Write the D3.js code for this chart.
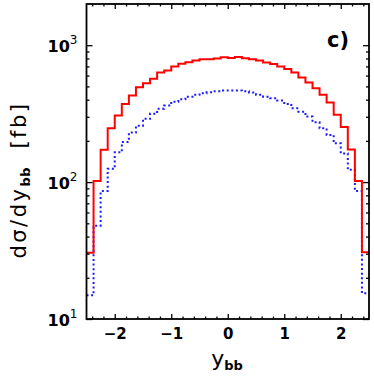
<!DOCTYPE html>
<html>
<head>
<meta charset="utf-8">
<script src="https://cdn.jsdelivr.net/npm/d3@7"></script>
<style>
html,body{margin:0;padding:0;background:#fff;}
svg{display:block;}
text{font-family:"DejaVu Sans",sans-serif;fill:#000;}
</style>
</head>
<body>
<svg id="chart" width="374" height="377"></svg>
<script>
// ---- data ----
const binStart = -2.5;
const binWidth = 0.125;
const redValues = [30.5, 102, 172, 247, 306, 372, 430, 493, 527, 570,
                   631, 653, 698, 731, 752, 773, 790, 790, 800, 817,
                   808, 821, 804, 790, 773, 747, 728, 698, 671, 631,
                   580, 533, 485, 434, 381, 311, 253, 173, 102, 30.7];
const blueValues = [14.9, 48, 86, 125, 165, 196, 230, 258, 290, 316,
                    343, 362, 387, 403, 421, 434, 446, 453, 461, 467,
                    467, 467, 461, 451, 434, 421, 410, 394, 372, 346,
                    327, 301, 274, 247, 221, 192, 162, 123, 86, 15.4];
const xMajorTicks = [-2, -1, 0, 1, 2];
const xMinorTicks = [-2.4,-2.2,-1.8,-1.6,-1.4,-1.2,-0.8,-0.6,-0.4,-0.2,0.2,0.4,0.6,0.8,1.2,1.4,1.6,1.8,2.2,2.4];
const xTickLabels = ["\u22122", "\u22121", "0", "1", "2"];
const yMajorTicks = [10, 100, 1000];
const yTickExponents = ["1", "2", "3"];
const yMinorTicks = [20,30,40,50,60,70,80,90,200,300,400,500,600,700,800,900];

// ---- layout ----
const L = 86.5, R = 369, T = 4, B = 319;
const svg = d3.select("#chart");
const x = d3.scaleLinear().domain([-2.5, 2.5]).range([L, R]);
const y = d3.scaleLog().domain([10, 2000]).range([B, T]);

svg.append("clipPath").attr("id","clip")
  .append("rect").attr("x", L).attr("y", T).attr("width", R-L).attr("height", B-T);

function stepPoints(vals){
  const pts = vals.map((v,i)=>[binStart + i*binWidth, v]);
  pts.push([binStart + vals.length*binWidth, vals[vals.length-1]]);
  return pts;
}
const line = d3.line().x(d=>x(d[0])).y(d=>y(d[1])).curve(d3.curveStepAfter);

const g = svg.append("g").attr("clip-path","url(#clip)");
g.append("path").attr("d", line(stepPoints(blueValues)))
  .attr("fill","none").attr("stroke","#1a1aff").attr("stroke-width",2)
  .attr("stroke-dasharray","2,2.6");
g.append("path").attr("d", line(stepPoints(redValues)))
  .attr("fill","none").attr("stroke","#ff0000").attr("stroke-width",2);

// ---- axes (ticks inward on all sides) ----
function styleAxis(sel){
  sel.select(".domain").remove();
  sel.selectAll(".tick line").attr("stroke","#000").attr("stroke-width",1.3);
}
// bottom
svg.append("g").attr("transform",`translate(0,${B})`)
  .call(d3.axisBottom(x).tickValues(xMajorTicks).tickSize(-5).tickPadding(9)
    .tickFormat((d,i)=>xTickLabels[i]))
  .call(styleAxis)
  .call(s=>s.selectAll("text").attr("font-size",15).attr("font-weight","bold").attr("dy","0.71em"));
svg.append("g").attr("transform",`translate(0,${B})`)
  .call(d3.axisBottom(x).tickValues(xMinorTicks).tickSize(-2.5).tickFormat(""))
  .call(styleAxis);
// top
svg.append("g").attr("transform",`translate(0,${T})`)
  .call(d3.axisTop(x).tickValues(xMajorTicks).tickSize(-5).tickFormat(""))
  .call(styleAxis);
svg.append("g").attr("transform",`translate(0,${T})`)
  .call(d3.axisTop(x).tickValues(xMinorTicks).tickSize(-2.5).tickFormat(""))
  .call(styleAxis);
// left
const leftAx = svg.append("g").attr("transform",`translate(${L},0)`)
  .call(d3.axisLeft(y).tickValues(yMajorTicks).tickSize(-6).tickPadding(10).tickFormat(""))
  .call(styleAxis);
leftAx.selectAll(".tick").each(function(d,i){
  const t = d3.select(this).append("text").attr("x",-9).attr("y",6)
    .attr("text-anchor","end").attr("font-size",16).attr("font-weight","bold");
  t.append("tspan").text("10");
  t.append("tspan").attr("dy",-8).attr("font-size",12).attr("font-weight","normal").text(yTickExponents[i]);
});
svg.append("g").attr("transform",`translate(${L},0)`)
  .call(d3.axisLeft(y).tickValues(yMinorTicks).tickSize(-3).tickFormat(""))
  .call(styleAxis);
// right
svg.append("g").attr("transform",`translate(${R},0)`)
  .call(d3.axisRight(y).tickValues(yMajorTicks).tickSize(-6).tickFormat(""))
  .call(styleAxis);
svg.append("g").attr("transform",`translate(${R},0)`)
  .call(d3.axisRight(y).tickValues(yMinorTicks).tickSize(-3).tickFormat(""))
  .call(styleAxis);

// frame
svg.append("rect").attr("x",L).attr("y",T).attr("width",R-L).attr("height",B-T)
  .attr("fill","none").attr("stroke","#000").attr("stroke-width",1.8);

// ---- titles ----
const xt = svg.append("text").attr("x", 227).attr("y", 366).attr("text-anchor","middle");
xt.append("tspan").attr("font-size",22).text("y");
xt.append("tspan").attr("font-size",13).attr("font-weight","bold").attr("dy",4).text("bb");

const yt = svg.append("text").attr("transform","translate(26,180) rotate(-90)")
  .attr("text-anchor","middle").attr("font-size",21).attr("letter-spacing",2.5);
yt.append("tspan").text("d\u03c3/dy");
yt.append("tspan").attr("font-size",13).attr("font-weight","bold").attr("dy",4).attr("letter-spacing",0.5).text("bb");
yt.append("tspan").attr("dy",-4).text("\u00a0\u00a0[fb]");

svg.append("text").attr("x", 349).attr("y", 47).attr("text-anchor","end")
  .attr("font-size",21).attr("font-weight","bold").text("c)");
</script>
</body>
</html>
